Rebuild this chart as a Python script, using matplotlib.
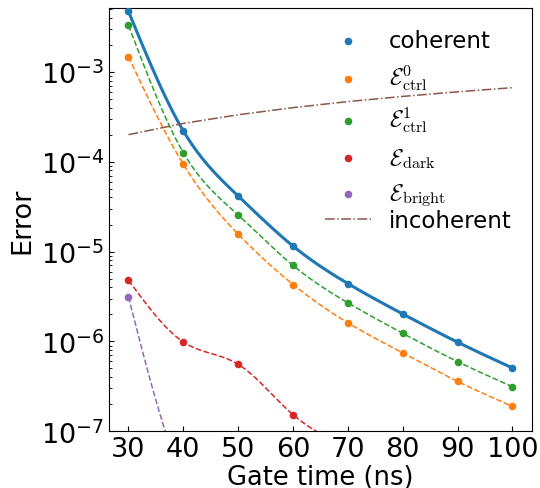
import numpy as np
import matplotlib
matplotlib.use('Agg')
import matplotlib.pyplot as plt

plt.rcParams['mathtext.fontset'] = 'cm'

gate_time = [30, 40, 50, 60, 70, 80, 90, 100]
coherent = [4.7e-3, 2.2e-4, 4.15e-5, 1.15e-5, 4.4e-6, 2.02e-6, 9.8e-7, 5.06e-7]
ctrl0 = [1.47e-3, 9.35e-5, 1.56e-5, 4.3e-6, 1.61e-6, 7.45e-7, 3.59e-7, 1.89e-7]
ctrl1 = [3.29e-3, 1.26e-4, 2.55e-5, 7.0e-6, 2.69e-6, 1.23e-6, 5.96e-7, 3.13e-7]
dark = [4.8e-6, 9.86e-7, 5.56e-7, 1.53e-7, 6.5e-8, 3e-8, 1.5e-8, 8e-9]
bright = [3.13e-6, 3e-8, 8e-9, 3e-9, 1.5e-9, 8e-10, 5e-10, 3e-10]
incoherent = [2.0e-4, 2.67e-4, 3.33e-4, 4.0e-4, 4.67e-4, 5.33e-4, 6.0e-4, 6.67e-4]


def smooth(x, y, n=300):
    # natural cubic spline through the points, in log space
    x = np.asarray(x, float)
    ly = np.log10(y)
    h = np.diff(x)
    m = len(x)
    A = np.zeros((m, m))
    b = np.zeros(m)
    A[0, 0] = A[-1, -1] = 1
    for i in range(1, m - 1):
        A[i, i - 1] = h[i - 1]
        A[i, i] = 2 * (h[i - 1] + h[i])
        A[i, i + 1] = h[i]
        b[i] = 6 * ((ly[i + 1] - ly[i]) / h[i] - (ly[i] - ly[i - 1]) / h[i - 1])
    M = np.linalg.solve(A, b)
    xs = np.linspace(x[0], x[-1], n)
    k = np.clip(np.searchsorted(x, xs) - 1, 0, m - 2)
    t0 = x[k + 1] - xs
    t1 = xs - x[k]
    hk = h[k]
    ys = (M[k] * t0**3 + M[k + 1] * t1**3) / (6 * hk) \
        + (ly[k] / hk - M[k] * hk / 6) * t0 + (ly[k + 1] / hk - M[k + 1] * hk / 6) * t1
    return xs, 10**ys


fig = plt.figure(figsize=(5.4, 4.89), dpi=100)
ax = fig.add_axes([0.2024, 0.116, 0.7822, 0.865])

series = [
    (coherent, 'C0', '-', 2.2, 'coherent'),
    (ctrl0, 'C1', '--', 1.1, r'$\mathcal{E}_{\rm ctrl}^{0}$'),
    (ctrl1, 'C2', '--', 1.1, r'$\mathcal{E}_{\rm ctrl}^{1}$'),
    (dark, 'C3', '--', 1.1, r'$\mathcal{E}_{\rm dark}$'),
    (bright, 'C4', '--', 1.1, r'$\mathcal{E}_{\rm bright}$'),
]
dots = []
for vals, c, ls, lw, lab in series:
    xs, ys = smooth(gate_time, vals)
    ax.plot(xs, ys, color=c, ls=ls, lw=lw)
    dots.append(ax.scatter(gate_time, vals, color=c, s=20, label=lab, zorder=3))

inc_line, = ax.plot(gate_time, incoherent, color='C5', ls='-.', lw=1.1, label='incoherent')

ax.set_yscale('log')
ax.set_xlim(26.5, 103.5)
ax.set_ylim(1e-7, 5.1e-3)
ax.set_xticks([30, 40, 50, 60, 70, 80, 90, 100])
ax.tick_params(which='both', direction='in', labelsize=19.5)
ax.set_xlabel('Gate time (ns)', fontsize=18.5, labelpad=1)
ax.set_ylabel('Error', fontsize=19.5)

leg1 = ax.legend(handles=dots, loc='upper left', bbox_to_anchor=(0.489, 0.973),
                 borderaxespad=0, frameon=False, fontsize=16.5)
ax.add_artist(leg1)
ax.legend(handles=[inc_line], loc='center left', bbox_to_anchor=(0.489, 0.499),
          borderaxespad=0, frameon=False, fontsize=16.5)

fig.savefig('out.png', dpi=100)
